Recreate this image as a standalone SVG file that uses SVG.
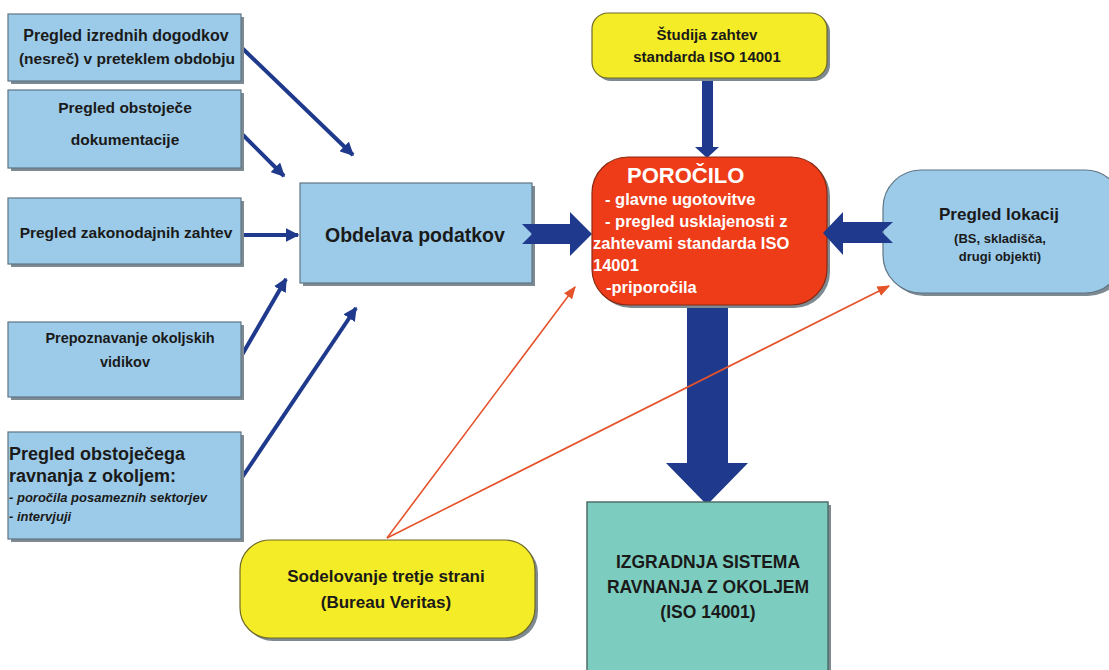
<svg xmlns="http://www.w3.org/2000/svg" width="1109" height="670" viewBox="0 0 1109 670">
<defs>
<marker id="ah" viewBox="0 0 10 10" refX="9" refY="5" markerWidth="3.4" markerHeight="3.4" orient="auto" markerUnits="strokeWidth">
<path d="M0,0 L10,5 L0,10 z" fill="#1f3a8c"/>
</marker>
<marker id="rh" viewBox="0 0 10 10" refX="9" refY="5" markerWidth="8" markerHeight="8" orient="auto" markerUnits="strokeWidth">
<path d="M0,1 L10,5 L0,9 z" fill="#e5532b"/>
</marker>
</defs>
<style>
text{font-family:"Liberation Sans",Arial,sans-serif;fill:#1a1a1a;font-weight:bold}
.bl{fill:#9ccbe9;stroke:#5f7585;stroke-width:1.2}
.sh{fill:#7d8a92}
.ye{fill:#f4ec26;stroke:#6f6a2a;stroke-width:1.2}
.c{text-anchor:middle}
.thin{stroke:#1f3a8c;stroke-width:4;fill:none;marker-end:url(#ah)}
.red{stroke:#e5532b;stroke-width:1.6;fill:none;marker-end:url(#rh)}
.blk{fill:#1f3a8c}
.w{fill:#ffffff}
</style>
<rect width="1109" height="670" fill="#ffffff"/>

<g id="connectors">
<path class="blk" d="M687,300 L728,300 L728,463 L748,463 L707,505 L666,463 L687,463 Z"/>
<path class="thin" d="M241,47 L353,155"/>
<path class="thin" d="M240,132 L284,176"/>
<path class="thin" d="M241,235 L298,235"/>
<path class="thin" d="M239,360 L286,279"/>
<path class="thin" d="M239,482 L356,308"/>
<path class="blk" d="M702,78 L713,78 L713,147 L719,147 L707,158 L695,147 L702,147 Z"/>
<path class="red" d="M387,538 L575,287"/>
<path class="red" d="M387,538 L889,286"/>
</g>

<g id="n1">
<rect class="sh" x="11" y="17" width="233" height="67"/>
<rect class="bl" x="8" y="14" width="233" height="67"/>
<text class="c" x="126" y="41" font-size="16">Pregled izrednih dogodkov</text>
<text class="c" x="127" y="64" font-size="15.5">(nesreč) v preteklem obdobju</text>
</g>
<g id="n2">
<rect class="sh" x="11" y="93" width="233" height="78"/>
<rect class="bl" x="8" y="90" width="233" height="78"/>
<text class="c" x="125" y="113" font-size="15.5">Pregled obstoječe</text>
<text class="c" x="125" y="145" font-size="15.5">dokumentacije</text>
</g>
<g id="n3">
<rect class="sh" x="11" y="201" width="233" height="66"/>
<rect class="bl" x="8" y="198" width="233" height="66"/>
<text class="c" x="126" y="238" font-size="15.5">Pregled zakonodajnih zahtev</text>
</g>
<g id="n4">
<rect class="sh" x="11" y="325" width="233" height="75"/>
<rect class="bl" x="8" y="322" width="233" height="75"/>
<text class="c" x="130" y="343" font-size="14.5">Prepoznavanje okoljskih</text>
<text class="c" x="125" y="367" font-size="14.5">vidikov</text>
</g>
<g id="n5">
<rect class="sh" x="11" y="435" width="233" height="107"/>
<rect class="bl" x="8" y="432" width="233" height="107"/>
<text x="9" y="460" font-size="18">Pregled obstoječega</text>
<text x="9" y="482" font-size="18">ravnanja z okoljem:</text>
<text x="9" y="502" font-size="13" font-style="italic">- poročila posameznih sektorjev</text>
<text x="9" y="521" font-size="13" font-style="italic">- intervjuji</text>
</g>
<g id="obdelava">
<rect class="sh" x="303" y="186" width="232" height="100"/>
<rect class="bl" x="300" y="183" width="232" height="100"/>
<text x="325" y="242" font-size="19.5">Obdelava podatkov</text>
</g>
<path class="blk" d="M522,224 L570,224 L570,212 L592,234 L570,256 L570,244 L522,244 L532,234 Z"/>

<g id="studija">
<rect class="sh" x="595" y="16" width="235" height="65" rx="16"/>
<rect class="ye" x="592" y="13" width="235" height="65" rx="16"/>
<text class="c" x="707" y="40" font-size="15">Študija zahtev</text>
<text class="c" x="707" y="62" font-size="15">standarda ISO 14001</text>
</g>
<g id="porocilo">
<rect class="sh" x="595" y="160" width="235" height="148" rx="36"/>
<rect x="592" y="157" width="235" height="148" rx="36" fill="#ee3b18" stroke="#8a2a12" stroke-width="1.2"/>
<text class="w" x="627" y="183" font-size="22" font-weight="normal">POROČILO</text>
<text class="w" x="605" y="205" font-size="16.5">- glavne ugotovitve</text>
<text class="w" x="605" y="227" font-size="16.5">- pregled usklajenosti z</text>
<text class="w" x="593" y="249" font-size="16.5">zahtevami standarda ISO</text>
<text class="w" x="593" y="271" font-size="16.5">14001</text>
<text class="w" x="606" y="293" font-size="16.5">-priporočila</text>
</g>
<g id="lokacij">
<rect class="sh" x="886" y="173" width="240" height="123" rx="38"/>
<rect class="bl" x="883" y="170" width="240" height="123" rx="38"/>
<text class="c" x="999" y="220" font-size="17">Pregled lokacij</text>
<text class="c" x="1000" y="243" font-size="13">(BS, skladišča,</text>
<text class="c" x="1000" y="261" font-size="13">drugi objekti)</text>
</g>
<path class="blk" d="M893,222 L843,222 L843,212 L823,233 L843,255 L843,243 L893,243 L882,232 Z"/>

<g id="sodelovanje">
<rect class="sh" x="243" y="543" width="295" height="98" rx="30"/>
<rect class="ye" x="240" y="540" width="295" height="98" rx="30"/>
<text class="c" x="386" y="582" font-size="17">Sodelovanje tretje strani</text>
<text class="c" x="386" y="608" font-size="17">(Bureau Veritas)</text>
</g>
<g id="izgradnja">
<rect class="sh" x="590" y="505" width="241" height="170"/>
<rect x="587" y="502" width="241" height="170" fill="#7ccdbf" stroke="#4f6f68" stroke-width="1.5"/>
<text class="c" x="708" y="568" font-size="17.5">IZGRADNJA SISTEMA</text>
<text class="c" x="708" y="593" font-size="17.5">RAVNANJA Z OKOLJEM</text>
<text class="c" x="708" y="618" font-size="17.5">(ISO 14001)</text>
</g>
</svg>
